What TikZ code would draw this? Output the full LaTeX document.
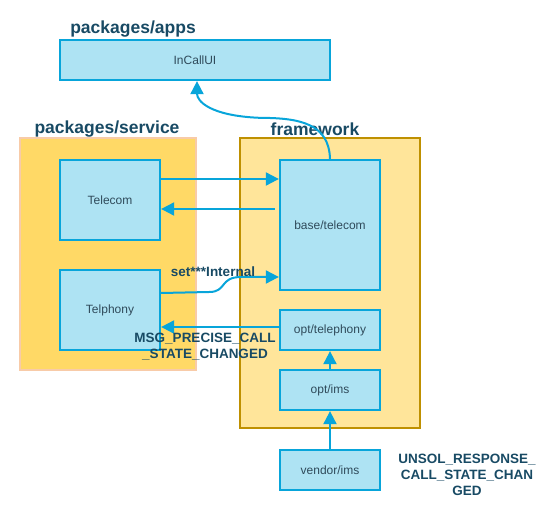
\documentclass[tikz,border=0pt]{standalone}
\usepackage{fontspec}
\setmainfont{Liberation Sans}
\usetikzlibrary{arrows.meta,calc}
\definecolor{boxfill}{HTML}{AEE3F3}
\definecolor{boxline}{HTML}{08A5DA}
\definecolor{boxtext}{HTML}{2F4A5A}
\definecolor{headtext}{HTML}{184A64}
\definecolor{fwfill}{HTML}{FFE59A}
\definecolor{fwline}{HTML}{BF9000}
\definecolor{svfill}{HTML}{FFD966}
\definecolor{svline}{HTML}{F8CBA8}
\tikzset{
  compbox/.style={draw=boxline, fill=boxfill, line width=2.3pt, inner sep=0pt,
    minimum width=100pt, text=boxtext, font=\fontsize{12}{14}\selectfont},
  heading/.style={text=headtext, font=\fontsize{17.5}{20}\selectfont\bfseries, inner sep=0pt},
  msglabel/.style={text=headtext, font=\fontsize{13.5}{16}\selectfont\bfseries, inner sep=0pt, align=center},
  arr/.style={draw=boxline, line width=2pt, -{Triangle[length=13pt,width=13pt]}},
}
\begin{document}
\begin{tikzpicture}[x=1pt,y=-1pt]
\useasboundingbox (0,0) rectangle (560,518);
% groups
\node[draw=svline, fill=svfill, line width=1.5pt, minimum width=176pt, minimum height=232pt, inner sep=0pt] (service) at (108,254) {};
\node[draw=fwline, fill=fwfill, line width=2pt, minimum width=180pt, minimum height=290pt, inner sep=0pt] (framework) at (330,283) {};
% headings
\node[heading] (happs) at (133,29) {packages/apps};
\node[heading] (hservice) at (107,129) {packages/service};
\node[heading] (hfw) at (315,129) {framework};
% boxes
\node[compbox, minimum width=270pt, minimum height=40pt] (incall) at (195,60) {InCallUI};
\node[compbox, minimum height=80pt] (telecom) at (110,200) {Telecom};
\node[compbox, minimum height=80pt] (telphony) at (110,310) {Telphony};
\node[compbox, minimum height=130pt] (base) at (330,225) {base/telecom};
\node[compbox, minimum height=40pt] (opttel) at (330,330) {opt/telephony};
\node[compbox, minimum height=40pt] (optims) at (330,390) {opt/ims};
\node[compbox, minimum height=40pt] (vendor) at (330,470) {vendor/ims};
% connectors
\draw[arr] ([yshift=21pt]telecom.east) -- ([yshift=21pt]telecom.east -| base.west);
\draw[arr] ([yshift=-9pt]telecom.east -| base.west) ++(-4,0) -- ([yshift=-9pt]telecom.east);
\draw[arr] ([yshift=17pt]telphony.east) -- ++(48,-1) .. controls +(18,0) and +(-22,0) .. ++(32,-15) coordinate (bend) -- (bend -| base.west);
\draw[arr] ([yshift=3pt]opttel.west) -- ([yshift=3pt]opttel.west -| telphony.east);
\draw[arr] (optims.north) -- (opttel.south);
\draw[arr] (vendor.north) -- (optims.south);
\draw[arr] (base.north) .. controls +(-1,-35) and +(40,0) .. ++(-70,-41) coordinate (mid) .. controls +(-50,-2) and +(0,20) .. ([xshift=2pt]incall.south);
% labels
\node[msglabel] (setint) at (213,272) {set***Internal};
\node[msglabel] (msg) at (205,347) {MSG\_PRECISE\_CALL\\\_STATE\_CHANGED};
\node[msglabel] (unsol) at (467,475) {UNSOL\_RESPONSE\_\\CALL\_STATE\_CHAN\\GED};
\end{tikzpicture}
\end{document}
